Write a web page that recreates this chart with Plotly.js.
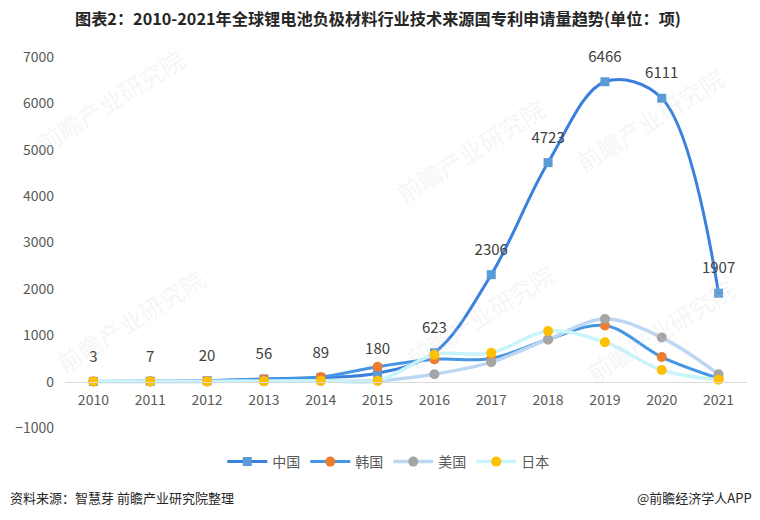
<!DOCTYPE html>
<html>
<head>
<meta charset="utf-8">
<script src="https://cdn.plot.ly/plotly-3.0.1.min.js"></script>
<style>
html,body{margin:0;padding:0;background:#fff;}
#chart{width:760px;height:520px;}
</style>
</head>
<body>
<div id="chart"></div>
<script>
const years = ['2010','2011','2012','2013','2014','2015','2016','2017','2018','2019','2020','2021'];
const china = [3, 7, 20, 56, 89, 180, 623, 2306, 4723, 6466, 6111, 1907];
const korea = [5, 8, 15, 50, 100, 320, 480, 500, 910, 1210, 530, 70];
const usa   = [2, 3, 5, 10, 15, 20, 160, 420, 910, 1350, 950, 160];
const japan = [2, 3, 5, 10, 20, 20, 580, 620, 1090, 850, 250, 40];
const seriesNames = ['中国', '韩国', '美国', '日本'];

const FONT = '"Noto Sans CJK SC", "Noto Sans", sans-serif';

const traces = [
  {
    x: years, y: china, name: seriesNames[0], type: 'scatter', mode: 'lines+markers',
    line: {color: '#3a80dc', width: 3, shape: 'spline', smoothing: 1},
    marker: {symbol: 'square', size: 9, color: '#5b9bd5'}
  },
  {
    x: years, y: korea, name: seriesNames[1], type: 'scatter', mode: 'lines+markers',
    line: {color: '#4596e4', width: 3, shape: 'spline', smoothing: 1},
    marker: {symbol: 'circle', size: 10, color: '#ed7d31'}
  },
  {
    x: years, y: usa, name: seriesNames[2], type: 'scatter', mode: 'lines+markers',
    line: {color: '#bdd7f2', width: 3.5, shape: 'spline', smoothing: 1},
    marker: {symbol: 'circle', size: 10, color: '#a5a5a5'}
  },
  {
    x: years, y: japan, name: seriesNames[3], type: 'scatter', mode: 'lines+markers',
    line: {color: '#c8f4fb', width: 3.5, shape: 'spline', smoothing: 1},
    marker: {symbol: 'circle', size: 10, color: '#ffc000'}
  },
  {
    x: years, y: china, type: 'scatter', mode: 'markers+text', showlegend: false, hoverinfo: 'skip',
    marker: {size: 24, color: 'rgba(0,0,0,0)'},
    text: china.map(String), textposition: 'top center',
    textfont: {family: FONT, size: 15, color: '#404040'},
    cliponaxis: false
  }
];

const L = 65, R = 13, T = 57, B = 92, W = 760, H = 520;
const px = x => (x - L) / (W - L - R);
const py = y => (H - B - y) / (H - T - B);

const wm = [[110, 100], [470, 150], [650, 120], [130, 320], [480, 315], [660, 330]];
const annotations = wm.map(p => ({
  xref: 'paper', yref: 'paper', x: px(p[0]), y: py(p[1]), text: '前瞻产业研究院',
  showarrow: false, textangle: -32,
  font: {family: FONT, size: 24, color: 'rgba(205,210,220,0.22)'},
  xanchor: 'center', yanchor: 'middle'
}));
annotations.push(
  {xref: 'paper', yref: 'paper', x: px(8), y: py(497),
   xanchor: 'left', yanchor: 'middle', showarrow: false, text: '资料来源：智慧芽 前瞻产业研究院整理',
   font: {family: FONT, size: 13, color: '#262626'}},
  {xref: 'paper', yref: 'paper', x: px(754), y: py(497),
   xanchor: 'right', yanchor: 'middle', showarrow: false, text: '@前瞻经济学人APP',
   font: {family: FONT, size: 13, color: '#262626'}}
);

const layout = {
  width: W, height: H,
  margin: {l: L, r: R, t: T, b: B},
  paper_bgcolor: '#ffffff', plot_bgcolor: '#ffffff',
  title: {text: '<b>图表2：2010-2021年全球锂电池负极材料行业技术来源国专利申请量趋势(单位：项)</b>',
          font: {family: FONT, size: 16.2, color: '#262626'}, x: 75 / 760, xanchor: 'left', y: 0.962, yanchor: 'middle'},
  showlegend: true,
  legend: {orientation: 'h', x: 0.474, xanchor: 'center', y: py(462), yanchor: 'middle',
           font: {family: FONT, size: 14, color: '#595959'}, itemwidth: 40, traceorder: 'normal'},
  xaxis: {
    type: 'category', range: [-0.5, 11.5],
    anchor: 'free', position: 1000 / 8000,
    showline: true, linecolor: '#d9d9d9', linewidth: 1,
    showgrid: false, zeroline: false, ticks: '', ticklabelstandoff: 6,
    tickfont: {family: FONT, size: 14, color: '#595959'}
  },
  yaxis: {
    range: [-1000, 7000], dtick: 1000, tick0: 0,
    showgrid: false, zeroline: false, showline: false, ticks: '', ticklabelstandoff: 10,
    tickfont: {family: FONT, size: 14, color: '#595959'}
  },
  annotations: annotations
};

Plotly.newPlot('chart', traces, layout, {displayModeBar: false, staticPlot: true});
</script>
</body>
</html>
